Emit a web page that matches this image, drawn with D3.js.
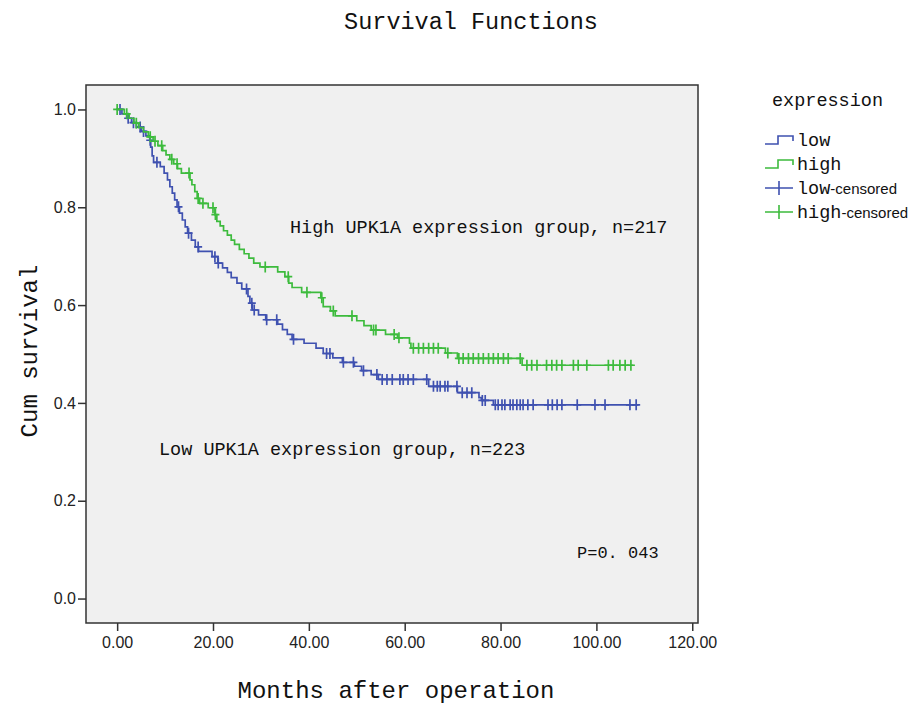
<!DOCTYPE html>
<html lang="en">
<head>
    <meta charset="UTF-8">
    <title>Survival Functions</title>
    <script src="https://d3js.org/d3.v7.min.js"></script>
    <style>
        body { margin: 0; background: #fff; }
        .mono { font-family: "Liberation Mono", monospace; fill: #111; }
        .tick text { font-family: "Liberation Sans", Arial, sans-serif; font-size: 16px; fill: #222; }
        .tick line { stroke: #333; stroke-width: 1.5; }
        .domain { display: none; }
    </style>
</head>
<body>
<script>
    const width = 923, height = 704;
    const plotLeft = 86, plotRight = 698, plotTop = 85, plotBottom = 623;

    // Kaplan-Meier steps: [month, survival after drop]
    const lowSteps = [[0,1.0],[1,0.991],[2,0.982],[3,0.973],[4,0.964],[5,0.955],[6,0.946],[6.8,0.937],
        [7,0.923],[7.3,0.905],[7.6,0.892],[9,0.883],[9.8,0.870],[10.5,0.856],[11,0.842],[11.5,0.829],
        [12,0.815],[12.5,0.801],[13,0.788],[13.6,0.774],[14.2,0.760],[14.7,0.747],[15.5,0.733],[16.3,0.719],
        [17,0.710],[19.8,0.699],[21,0.686],[22,0.676],[23,0.667],[23.8,0.656],[25,0.645],[26,0.633],
        [27.3,0.618],[27.7,0.604],[28.2,0.590],[29.5,0.580],[31,0.570],[33.5,0.561],[34.5,0.550],[35.5,0.540],
        [36.5,0.530],[39,0.522],[41.5,0.512],[43,0.501],[45,0.492],[47,0.483],[49.5,0.475],[51,0.466],
        [53,0.458],[54.5,0.448],[65,0.434],[71,0.421],[75.5,0.411],[76,0.405],[78.5,0.396]];
    const lowEnd = 108.8;
    const lowCensored = [0.6,2.3,3.4,4.8,5.5,6.9,8.3,12.8,14.9,16.9,20.4,21.1,27,28.1,28.6,31.2,33.3,36.8,
        43.7,44.4,47.2,49.3,51.4,54.2,55.3,56.3,57.4,59,59.7,60.7,61.8,64.6,66,66.8,67.4,68.4,69,70.9,72,73,74,
        76.2,76.8,78.9,79.5,80.3,80.9,82,82.6,83.4,84.1,84.7,85.7,86.8,89.9,90.8,91.8,92.8,96,99.7,101.8,107,108.3];

    const highSteps = [[0,1.0],[1.5,0.991],[2.5,0.982],[3.5,0.972],[4.5,0.963],[5.5,0.954],[6.5,0.944],
        [7.5,0.935],[8.5,0.926],[9.5,0.916],[10.2,0.907],[11,0.898],[11.8,0.889],[12.6,0.879],[13.4,0.870],
        [15.2,0.856],[15.6,0.846],[16.2,0.832],[16.7,0.818],[17.2,0.808],[19,0.799],[20.4,0.785],[20.8,0.771],
        [21.5,0.762],[22.2,0.752],[23,0.743],[23.8,0.733],[24.5,0.724],[25.5,0.714],[26.5,0.705],[27.5,0.696],
        [28.5,0.686],[29.8,0.678],[33.5,0.668],[35,0.658],[35.8,0.645],[36.5,0.636],[38.5,0.626],[42.5,0.615],
        [43,0.597],[44.5,0.588],[45.5,0.578],[50,0.568],[51.5,0.558],[53,0.549],[56,0.540],[58.5,0.533],
        [61,0.522],[61.3,0.512],[68.5,0.502],[71,0.491],[84.5,0.477]];
    const highEnd = 107.7;
    const highCensored = [0,2,4,6.9,7.9,9.3,11.4,12.5,15,16.9,17.9,20,20.5,30.9,35.7,39.6,42.7,45.1,49,53.5,
        54,57.8,58.8,61.8,62.9,63.9,65,66,67,69,71.3,72.2,73.3,74.3,75.4,76.4,77.5,78.5,79.5,80.6,81.6,84.1,
        85.5,86.5,87.6,89.6,90.7,91.7,92.8,95.2,96.2,98,102.5,103.5,104.9,106,107.2];

    const xTicks = [0, 20, 40, 60, 80, 100, 120];
    const yTicks = [0, 0.2, 0.4, 0.6, 0.8, 1.0];
    const legendItems = ["low", "high", "low", "high"];
    const lowColor = "#3f51b0", highColor = "#3dbb3d";

    const x = d3.scaleLinear().domain([-6.5, 121.2]).range([plotLeft, plotRight]);
    const y = d3.scaleLinear().domain([-0.05, 1.05]).range([plotBottom, plotTop]);

    const svg = d3.select("body").append("svg")
        .attr("width", width).attr("height", height);

    svg.append("rect")
        .attr("x", plotLeft).attr("y", plotTop)
        .attr("width", plotRight - plotLeft).attr("height", plotBottom - plotTop)
        .attr("fill", "#f0f0f0").attr("stroke", "#333").attr("stroke-width", 1.5);

    svg.append("g").attr("transform", `translate(0,${plotBottom})`)
        .call(d3.axisBottom(x).tickValues(xTicks).tickFormat(d3.format(".2f"))
            .tickSize(8).tickPadding(6));
    svg.append("g").attr("transform", `translate(${plotLeft},0)`)
        .call(d3.axisLeft(y).tickValues(yTicks).tickFormat(d3.format(".1f"))
            .tickSize(8).tickPadding(2));

    function stepPath(steps, end) {
        let p = "";
        steps.forEach((d, i) => {
            if (i === 0) p += `M${x(d[0])},${y(d[1])}`;
            else p += `H${x(d[0])}V${y(d[1])}`;
        });
        return p + `H${x(end)}`;
    }
    function survivalAt(steps, t) {
        const i = d3.bisector(d => d[0]).right(steps, t) - 1;
        return steps[Math.max(0, i)][1];
    }
    function drawGroup(steps, end, censored, color) {
        svg.append("path").attr("d", stepPath(steps, end))
            .attr("fill", "none").attr("stroke", color).attr("stroke-width", 1.7);
        svg.append("g").selectAll("path").data(censored).join("path")
            .attr("d", t => {
                const cx = x(t), cy = y(survivalAt(steps, t));
                return `M${cx - 4},${cy}H${cx + 4}M${cx},${cy - 5.5}V${cy + 5.5}`;
            })
            .attr("stroke", color).attr("stroke-width", 1.7).attr("fill", "none");
    }
    drawGroup(lowSteps, lowEnd, lowCensored, lowColor);
    drawGroup(highSteps, highEnd, highCensored, highColor);

    // texts
    svg.append("text").attr("class", "mono").attr("x", 471).attr("y", 29)
        .attr("text-anchor", "middle").attr("font-size", 23.5).text("Survival Functions");
    svg.append("text").attr("class", "mono")
        .attr("transform", "translate(37,351) rotate(-90)")
        .attr("text-anchor", "middle").attr("font-size", 24).text("Cum survival");
    svg.append("text").attr("class", "mono").attr("x", 396).attr("y", 698)
        .attr("text-anchor", "middle").attr("font-size", 24).text("Months after operation");
    svg.append("text").attr("class", "mono").attr("x", 290).attr("y", 233)
        .attr("font-size", 18.5).text("High UPK1A expression group, n=217");
    svg.append("text").attr("class", "mono").attr("x", 159).attr("y", 455)
        .attr("font-size", 18.5).text("Low UPK1A expression group, n=223");
    svg.append("text").attr("class", "mono").attr("x", 577).attr("y", 558)
        .attr("font-size", 17).text("P=0. 043");

    // legend
    svg.append("text").attr("class", "mono").attr("x", 772).attr("y", 106)
        .attr("font-size", 18.5).text("expression");
    const leg = svg.append("g").selectAll("g").data(legendItems).join("g")
        .attr("transform", (d, i) => `translate(765,${140 + i * 24})`);
    leg.append("path")
        .attr("d", (d, i) => i < 2 ? "M0,4H13V-4H28V1" : "M0,0H28M14,-7V7")
        .attr("fill", "none").attr("stroke-width", 1.6)
        .attr("stroke", d => d === "low" ? lowColor : highColor);
    const lt = leg.append("text").attr("class", "mono").attr("x", 32).attr("y", 6)
        .attr("font-size", 18.5);
    lt.append("tspan").text(d => d);
    lt.append("tspan").filter((d, i) => i >= 2)
        .attr("font-family", "Liberation Sans, Arial, sans-serif").attr("font-size", 15)
        .text("-censored");
</script>
</body>
</html>
